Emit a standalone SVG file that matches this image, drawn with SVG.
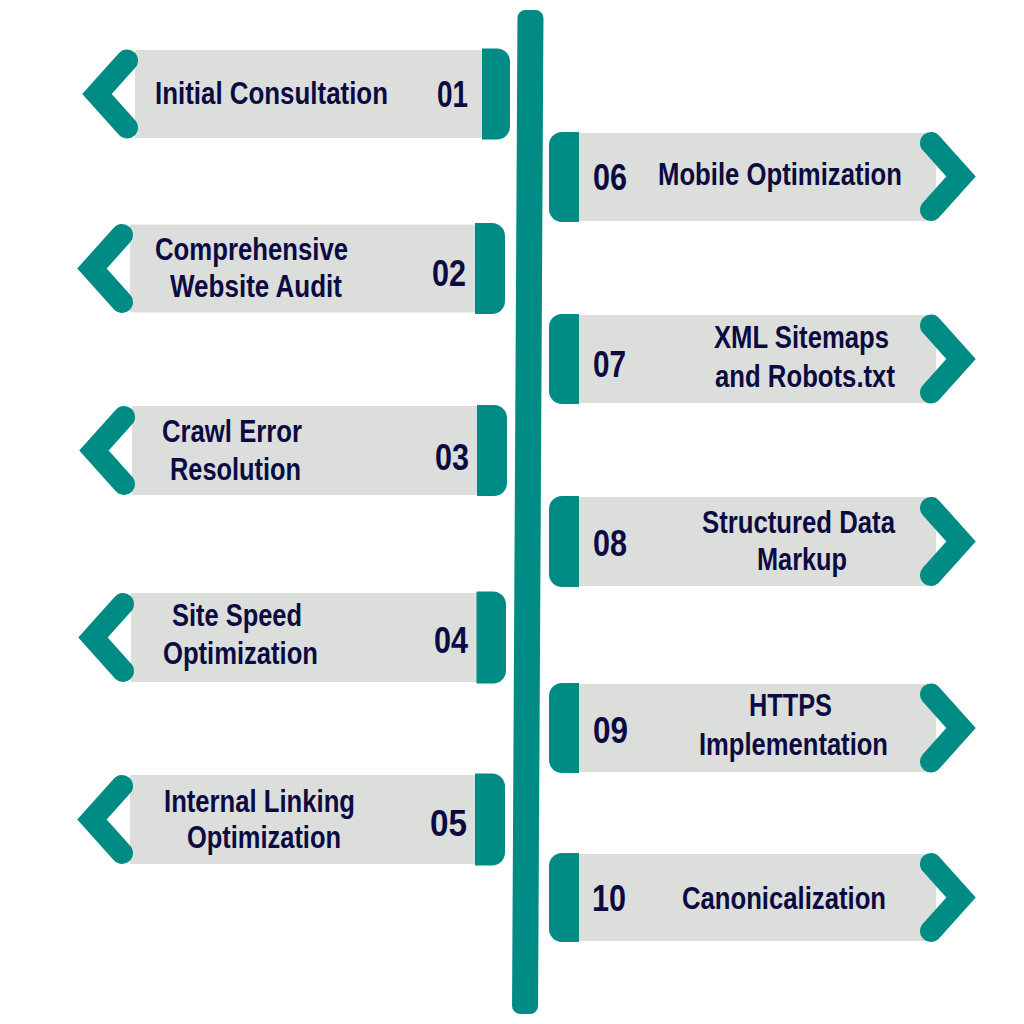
<svg xmlns="http://www.w3.org/2000/svg" width="1024" height="1024" viewBox="0 0 1024 1024">
<style>
.band{fill:#dcdedb}
.tab{fill:#008b84}
.chev{fill:none;stroke:#008b84;stroke-width:22;stroke-linecap:round;stroke-linejoin:miter}
.lbl{font-family:"Liberation Sans",Arial,sans-serif;font-weight:bold;font-size:31px;fill:#0b0b42}
.num{font-family:"Liberation Sans",Arial,sans-serif;font-weight:bold;font-size:37px;fill:#0b0b42}
</style>
<rect width="1024" height="1024" fill="#ffffff"/>
<g id="pole">
<rect x="-13" y="0" width="26" height="1004" rx="8" class="tab" transform="translate(530.5,10) rotate(0.314)"/>
</g>
<g id="connectors"></g>
<g id="step01">
<rect class="band" x="135" y="50" width="350" height="88"/>
<path class="tab" d="M482,48.5 H497 A13,13 0 0 1 510,61.5 V126.5 A13,13 0 0 1 497,139.5 H482 Z"/>
<polyline class="chev" points="127,60.5 97,94 127,127.5"/>
<text class="lbl" x="155" y="104" textLength="233" lengthAdjust="spacingAndGlyphs">Initial Consultation</text>
<text class="num" x="437" y="107" textLength="31" lengthAdjust="spacingAndGlyphs">01</text>
</g>
<g id="step02">
<rect class="band" x="130" y="224.5" width="348" height="88"/>
<path class="tab" d="M475,223 H492 A13,13 0 0 1 505,236 V301 A13,13 0 0 1 492,314 H475 Z"/>
<polyline class="chev" points="122,235 92,268.5 122,302"/>
<text class="lbl" x="155" y="260" textLength="193" lengthAdjust="spacingAndGlyphs">Comprehensive</text>
<text class="lbl" x="170" y="297" textLength="172" lengthAdjust="spacingAndGlyphs">Website Audit</text>
<text class="num" x="432" y="286" textLength="34" lengthAdjust="spacingAndGlyphs">02</text>
</g>
<g id="step03">
<rect class="band" x="132" y="406" width="348" height="89"/>
<path class="tab" d="M477,405 H494 A13,13 0 0 1 507,418 V483 A13,13 0 0 1 494,496 H477 Z"/>
<polyline class="chev" points="124,417 94,450.5 124,484"/>
<text class="lbl" x="162" y="442" textLength="140" lengthAdjust="spacingAndGlyphs">Crawl Error</text>
<text class="lbl" x="170" y="480" textLength="131" lengthAdjust="spacingAndGlyphs">Resolution</text>
<text class="num" x="435" y="470" textLength="34" lengthAdjust="spacingAndGlyphs">03</text>
</g>
<g id="step04">
<rect class="band" x="131" y="593" width="348" height="89"/>
<path class="tab" d="M476.5,591.5 H493 A13,13 0 0 1 506,604.5 V670.5 A13,13 0 0 1 493,683.5 H476.5 Z"/>
<polyline class="chev" points="123,604 93,637.5 123,671"/>
<text class="lbl" x="172" y="626" textLength="130" lengthAdjust="spacingAndGlyphs">Site Speed</text>
<text class="lbl" x="163" y="664" textLength="155" lengthAdjust="spacingAndGlyphs">Optimization</text>
<text class="num" x="434" y="653" textLength="34" lengthAdjust="spacingAndGlyphs">04</text>
</g>
<g id="step05">
<rect class="band" x="130" y="775" width="348" height="89"/>
<path class="tab" d="M475,773.5 H492 A13,13 0 0 1 505,786.5 V852.5 A13,13 0 0 1 492,865.5 H475 Z"/>
<polyline class="chev" points="122,786 92,819.5 122,853"/>
<text class="lbl" x="164" y="812" textLength="191" lengthAdjust="spacingAndGlyphs">Internal Linking</text>
<text class="lbl" x="187" y="848" textLength="154" lengthAdjust="spacingAndGlyphs">Optimization</text>
<text class="num" x="430" y="836" textLength="37" lengthAdjust="spacingAndGlyphs">05</text>
</g>
<g id="step06">
<rect class="band" x="576" y="133" width="360" height="88"/>
<path class="tab" d="M579,132 H562 A13,13 0 0 0 549,145 V209 A13,13 0 0 0 562,222 H579 Z"/>
<polyline class="chev" points="931,143 961,176.5 931,210"/>
<text class="num" x="593" y="190" textLength="34" lengthAdjust="spacingAndGlyphs">06</text>
<text class="lbl" x="658" y="185" textLength="244" lengthAdjust="spacingAndGlyphs">Mobile Optimization</text>
</g>
<g id="step07">
<rect class="band" x="576" y="315" width="360" height="88"/>
<path class="tab" d="M579,314 H562 A13,13 0 0 0 549,327 V391 A13,13 0 0 0 562,404 H579 Z"/>
<polyline class="chev" points="931,325.5 961,359 931,392.5"/>
<text class="num" x="593" y="377" textLength="33" lengthAdjust="spacingAndGlyphs">07</text>
<text class="lbl" x="714" y="348" textLength="175" lengthAdjust="spacingAndGlyphs">XML Sitemaps</text>
<text class="lbl" x="715" y="387" textLength="180" lengthAdjust="spacingAndGlyphs">and Robots.txt</text>
</g>
<g id="step08">
<rect class="band" x="576" y="497" width="360" height="89"/>
<path class="tab" d="M579,496 H562 A13,13 0 0 0 549,509 V574 A13,13 0 0 0 562,587 H579 Z"/>
<polyline class="chev" points="931,508 961,541.5 931,575"/>
<text class="num" x="593" y="556" textLength="34" lengthAdjust="spacingAndGlyphs">08</text>
<text class="lbl" x="702" y="533" textLength="193" lengthAdjust="spacingAndGlyphs">Structured Data</text>
<text class="lbl" x="757" y="570" textLength="90" lengthAdjust="spacingAndGlyphs">Markup</text>
</g>
<g id="step09">
<rect class="band" x="576" y="684" width="360" height="88"/>
<path class="tab" d="M579,683 H562 A13,13 0 0 0 549,696 V760 A13,13 0 0 0 562,773 H579 Z"/>
<polyline class="chev" points="931,694.5 961,728 931,761.5"/>
<text class="num" x="593" y="743" textLength="35" lengthAdjust="spacingAndGlyphs">09</text>
<text class="lbl" x="749" y="716" textLength="83" lengthAdjust="spacingAndGlyphs">HTTPS</text>
<text class="lbl" x="699" y="755" textLength="189" lengthAdjust="spacingAndGlyphs">Implementation</text>
</g>
<g id="step10">
<rect class="band" x="576" y="854" width="360" height="87"/>
<path class="tab" d="M579,853 H562 A13,13 0 0 0 549,866 V929 A13,13 0 0 0 562,942 H579 Z"/>
<polyline class="chev" points="931,864 961,897.5 931,931"/>
<text class="num" x="592" y="911" textLength="34" lengthAdjust="spacingAndGlyphs">10</text>
<text class="lbl" x="682" y="909" textLength="204" lengthAdjust="spacingAndGlyphs">Canonicalization</text>
</g>
</svg>
